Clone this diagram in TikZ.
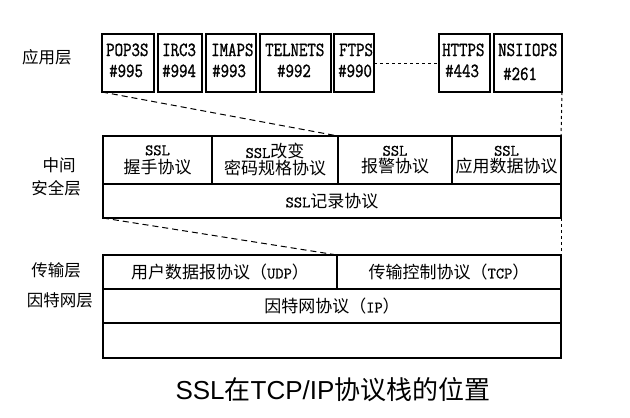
\documentclass[tikz,border=0pt]{standalone}
\usepackage{fontspec}
\newfontfamily\cjkfnt{Noto Sans CJK SC}
\newfontfamily\monofnt[FakeStretch=0.82,FakeBold=1.2]{Latin Modern Mono}
\newfontfamily\monocell[FakeBold=0.8]{Latin Modern Mono}
\newfontfamily\sansfnt{Liberation Sans}
\newcommand\la[1]{{\fontsize{16}{17}\monocell #1}}
\newcommand\ls[1]{{\sansfnt #1}}
\begin{document}
\begin{tikzpicture}[x=1pt,y=-1pt,
  app/.style={draw, line width=2.8pt, inner sep=0pt, outer sep=0pt, anchor=north west},
  cell/.style={draw, line width=2pt, inner sep=0pt, outer sep=0pt, anchor=north west, align=center,
    font=\fontsize{17}{17}\cjkfnt},
  apptxt/.style={inner sep=0pt, anchor=base west, font=\fontsize{20}{16}\monofnt},
  apptxc/.style={inner sep=0pt, anchor=base, font=\fontsize{20}{16}\monofnt},
  side/.style={inner sep=0pt, font=\fontsize{16.5}{22}\cjkfnt, align=center},
  link/.style={line width=1pt, dash pattern=on 6pt off 4pt},
  vlink/.style={line width=1pt, dash pattern=on 3pt off 3pt},
]
\useasboundingbox (0,0) rectangle (630,418);

% application layer boxes
\node[app, minimum width=52pt, minimum height=58pt] (pop) at (102,34) {};
\node[app, minimum width=44pt, minimum height=58pt] (irc) at (158,34) {};
\node[app, minimum width=50pt, minimum height=58pt] (imap) at (206,34) {};
\node[app, minimum width=71pt, minimum height=58pt] (tel) at (260,34) {};
\node[app, minimum width=40pt, minimum height=58pt] (ftp) at (334,34) {};
\node[app, minimum width=51pt, minimum height=58pt] (http) at (439,34) {};
\node[app, minimum width=68pt, minimum height=58pt] (nsi) at (494,34) {};

\node[apptxt] (t1a) at (106,56) {POP3S};
\node[apptxt] (t1b) at (109,77) {\#995};
\node[apptxt] (t2a) at (162,56) {IRC3};
\node[apptxt] (t2b) at (162,77) {\#994};
\node[apptxt] (t3a) at (211,56) {IMAPS};
\node[apptxt] (t3b) at (212,77) {\#993};
\node[apptxt] (t4a) at (265,56) {TELNETS};
\node[apptxc] (t4b) at (294,77) {\#992};
\node[apptxt] (t5a) at (339,56) {FTPS};
\node[apptxt] (t5b) at (338,77) {\#990};
\node[apptxt] (t6a) at (442,56) {HTTPS};
\node[apptxt] (t6b) at (445,77) {\#443};
\node[apptxt] (t7a) at (498,56) {NSIIOPS};
\node[apptxt] (t7b) at (503,80) {\#261};

\draw[vlink] (ftp.east) -- (http.west |- ftp.east);

% middle security layer
\node[cell, minimum width=109pt, minimum height=48pt] (c1) at (103,136) {\la{SSL}\\[1pt]握手协议};
\node[cell, minimum width=126pt, minimum height=48pt] (c2) at (212,136) {\la{SSL}改变\\密码规格协议};
\node[cell, minimum width=114pt, minimum height=48pt] (c3) at (338,136) {\la{SSL}\\报警协议};
\node[cell, minimum width=109pt, minimum height=48pt] (c4) at (452,136) {\la{SSL}\\应用数据协议};
\node[cell, minimum width=458pt, minimum height=34pt] (rec) at (103,184) {\la{SSL}记录协议};
\draw[line width=2.6pt] (c1.north west) rectangle (rec.south east);

% transport / internet layers
\node[cell, minimum width=234pt, minimum height=34pt] (udp) at (103,255) {用户数据报协议（\la{UDP}）};
\node[cell, minimum width=224pt, minimum height=34pt] (tcp) at (337,255) {传输控制协议（\la{TCP}）};
\node[cell, minimum width=458pt, minimum height=34pt] (ip) at (103,289) {因特网协议（\la{IP}）};
\node[cell, minimum width=458pt, minimum height=35pt] (blank) at (103,323) {};
\draw[line width=2.6pt] (udp.north west) rectangle (blank.south east);

% connectors
\draw[link] (pop.south west) -- (c3.north west);
\draw[link] (rec.south west) -- (tcp.north west);
\draw[vlink] (nsi.south east) -- (c4.north east);
\draw[vlink] (rec.south east) -- (tcp.north east);

% side labels
\node[side] (lapp) at (47,57) {应用层};
\node[side] (lmid1) at (59,165) {中间};
\node[side] (lmid2) at (56,188) {安全层};
\node[side] (ltr) at (56,270) {传输层};
\node[side] (lnet) at (60,300) {因特网层};

% caption
\node[inner sep=0pt, font=\fontsize{26}{30}\cjkfnt] (cap) at (333,390) {\ls{SSL}在\ls{TCP/IP}协议栈的位置};
\end{tikzpicture}
\end{document}
